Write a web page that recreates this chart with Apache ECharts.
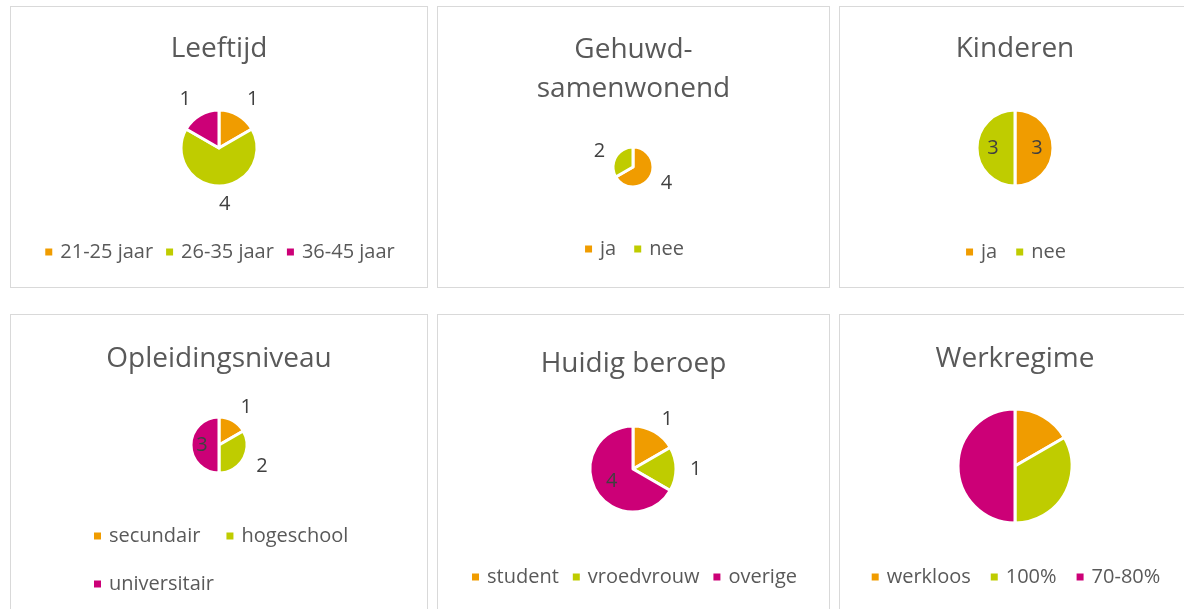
<!DOCTYPE html>
<html>
<head>
<meta charset="utf-8">
<script src="https://cdn.jsdelivr.net/npm/echarts@6/dist/echarts.min.js"></script>
<style>
  html, body { margin: 0; padding: 0; background: #fff; width: 1184px; height: 609px; overflow: hidden; }
  .panel { position: absolute; box-sizing: border-box; border: 1px solid #d9d9d9; background: #fff; }
</style>
</head>
<body>
<div id="p1" class="panel" style="left:10px;top:6px;width:418px;height:282px"></div>
<div id="p2" class="panel" style="left:437px;top:6px;width:393px;height:282px"></div>
<div id="p3" class="panel" style="left:839px;top:6px;width:352px;height:282px"></div>
<div id="p4" class="panel" style="left:10px;top:314px;width:418px;height:300px"></div>
<div id="p5" class="panel" style="left:437px;top:314px;width:393px;height:300px"></div>
<div id="p6" class="panel" style="left:839px;top:314px;width:352px;height:300px"></div>

<script>
// data
const leeftijdCats = ['21-25 jaar', '26-35 jaar', '36-45 jaar'];
const leeftijdVals = [1, 4, 1];
const gehuwdCats = ['ja', 'nee'];
const gehuwdVals = [4, 2];
const kinderenCats = ['ja', 'nee'];
const kinderenVals = [3, 3];
const opleidingCats = ['secundair', 'hogeschool', 'universitair'];
const opleidingVals = [1, 2, 3];
const beroepCats = ['student', 'vroedvrouw', 'overige'];
const beroepVals = [1, 1, 4];
const werkCats = ['werkloos', '100%', '70-80%'];
const werkVals = [1, 2, 3];

const colors = ['#F09C00', '#BFCC00', '#CC0077'];
const font = 'Open Sans';

function drawPie(id, o) {
  const dom = document.getElementById(id);
  const chart = echarts.init(dom);
  // panel origin (inside the 1px border)
  const ox = dom.offsetLeft + 1;
  const oy = dom.offsetTop + 1;

  const data = o.cats.map((name, i) => {
    const item = { name: name, value: o.vals[i] };
    if (o.inside && o.inside.indexOf(i) >= 0) {
      item.label = { position: 'inside' };
    }
    return item;
  });

  const legend = {
    data: o.cats,
    icon: 'rect',
    itemWidth: 9,
    itemHeight: 9,
    itemGap: o.legendGap,
    padding: 0,
    top: o.legendY - oy - 12,
    selectedMode: false,
    textStyle: {
      fontFamily: font,
      fontSize: 20,
      lineHeight: 24,
      color: '#595959',
      padding: [0, 0, 0, 2]
    }
  };
  if (o.legendLeft != null) {
    legend.left = o.legendLeft - ox;
    legend.width = o.legendWidth;
  } else {
    legend.left = 'center';
  }

  chart.setOption({
    animation: false,
    color: colors,
    title: {
      text: o.title,
      left: 'center',
      top: o.titleY - oy - 17,
      padding: 0,
      textStyle: {
        fontFamily: font,
        fontSize: 28,
        fontWeight: 'normal',
        lineHeight: 39,
        color: '#595959'
      }
    },
    legend: legend,
    series: [{
      type: 'pie',
      center: [o.cx - ox, o.cy - oy],
      radius: o.r,
      startAngle: 90,
      clockwise: true,
      avoidLabelOverlap: false,
      silent: true,
      itemStyle: { borderColor: '#fff', borderWidth: 3 },
      label: {
        show: o.labels !== false,
        position: o.labelPos || 'outside',
        formatter: '{c}',
        fontFamily: font,
        fontSize: 20,
        color: '#404040',
        distanceToLabelLine: 0
      },
      labelLine: { show: false, length: o.labelLen || 10, length2: 0 },
      data: data
    }]
  });
}

drawPie('p1', { title: 'Leeftijd', titleY: 47, cats: leeftijdCats, vals: leeftijdVals,
  cx: 219, cy: 148, r: 38, labelLen: 18, legendY: 252, legendGap: 11 });
drawPie('p2', { title: 'Gehuwd-\nsamenwonend', titleY: 48, cats: gehuwdCats, vals: gehuwdVals,
  cx: 633, cy: 167, r: 20, labelLen: 12, legendY: 249, legendGap: 16 });
drawPie('p3', { title: 'Kinderen', titleY: 47, cats: kinderenCats, vals: kinderenVals,
  cx: 1015, cy: 148, r: 38, labelPos: 'inside', legendY: 252, legendGap: 17 });
drawPie('p4', { title: 'Opleidingsniveau', titleY: 357, cats: opleidingCats, vals: opleidingVals,
  cx: 219, cy: 445, r: 28, labelLen: 15, inside: [2], legendY: 536, legendGap: 24,
  legendLeft: 92, legendWidth: 290 });
drawPie('p5', { title: 'Huidig beroep', titleY: 362, cats: beroepCats, vals: beroepVals,
  cx: 633, cy: 469, r: 43, labelLen: 14, inside: [2], legendY: 577, legendGap: 12 });
drawPie('p6', { title: 'Werkregime', titleY: 357, cats: werkCats, vals: werkVals,
  cx: 1015, cy: 466, r: 57, labels: false, legendY: 577, legendGap: 18 });
</script>
</body>
</html>
